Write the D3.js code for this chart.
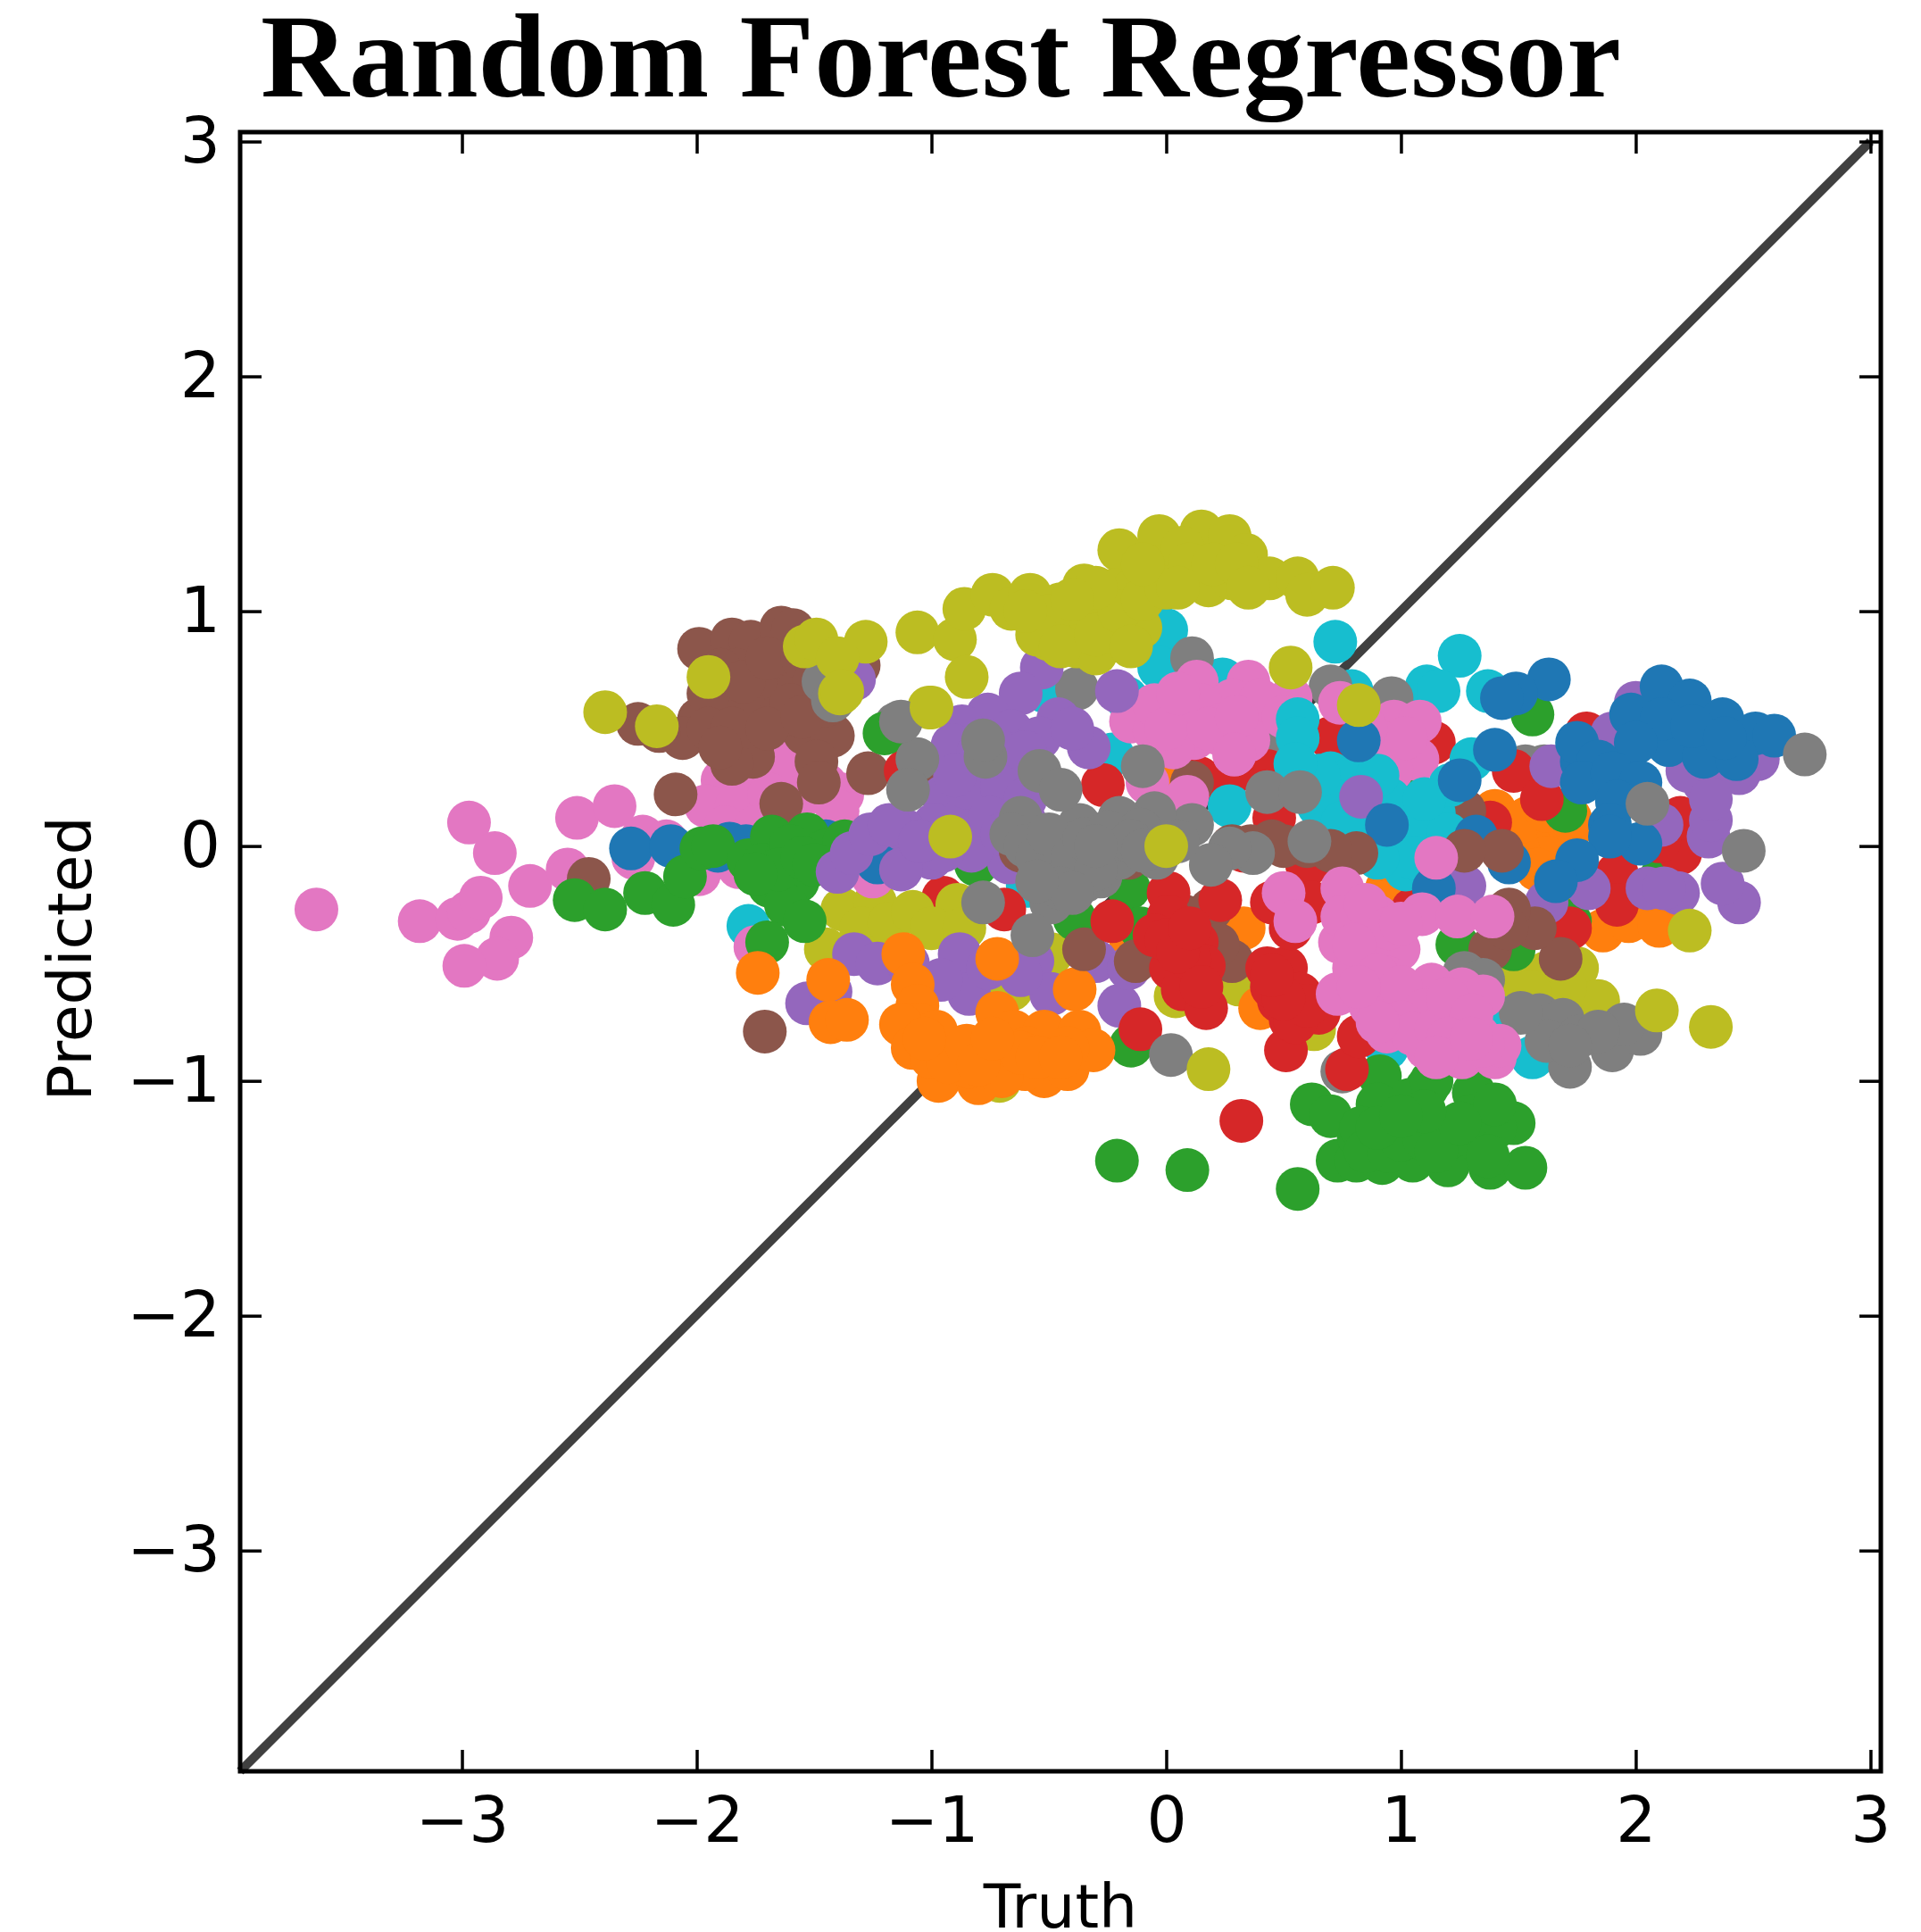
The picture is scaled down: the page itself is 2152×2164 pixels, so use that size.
<!doctype html>
<html lang="en">
<head>
<meta charset="utf-8" />
<title>Random Forest Regressor</title>
<script src="https://d3js.org/d3.v7.min.js"></script>
<style>
  html, body { margin: 0; background: #fff; }
  svg { display: block; filter: blur(0.6px); }
  .tick text { font-family: "DejaVu Sans", sans-serif; }
</style>
</head>
<body>
<div id="svg_div"></div>
<script>
// tick labels
const xTicks = [-3, -2, -1, 0, 1, 2, 3];
const yTicks = [-3, -2, -1, 0, 1, 2, 3];

// tab10 colours used by the batches
const blue = "#1f77b4", orange = "#ff7f0e", green = "#2ca02c", red = "#d62728", purple = "#9467bd";
const brown = "#8c564b", pink = "#e377c2", gray = "#7f7f7f", olive = "#bcbd22", cyan = "#17becf";

// [truth, predicted], one array per clump of points
const cyanBack = [[-.59,-.17],[-.52,.66],[-.23,.39],[-.17,.63],[.24,.71],[.79,.66],[-1.78,-.34],[.0,.92],[-.03,.76],
  [1.56,-.90],[1.46,-.69],[.94,-.86],[.72,.87],[1.25,.81],[1.11,.68],[1.16,.66],[1.37,.66]];
const oliveBack = [[-1.45,-.44],[-1.38,-.27],[-1.24,-.24],[-1.30,-.35],[-1.18,-.33],
  [-.66,-.61],[.31,-.59],[.04,-.64],[.63,-.78],[-.71,-1.0],[-.49,-.46],[-1.01,.59],[1.75,-.52],[1.62,-.54],[1.49,-.56],[1.84,-.66],
  [1.70,-.60],[1.55,-.62]];
const oliveMid = [[-1.08,-.28],[-.89,-.25],[-1.0,-.35],[-.86,-.35]];
const pinkTail = [[-3.62,-.27],[-3.18,-.32],[-3.02,-.31],[-2.97,-.28],[-2.92,-.22],[-2.97,.10],[-2.86,-.03],[-2.71,-.17],[-2.79,-.39],
  [-2.85,-.48],[-2.99,-.51],[-2.55,-.10],[-2.51,.12],[-2.35,.17],[-2.23,.04],[-2.13,.02],[-2.27,-.05],[-1.99,-.12],[-1.82,-.09],
  [-1.89,.28],[-1.79,.31],[-1.71,.41],[-1.62,.36],[-1.45,.26],[-1.38,.22],[-1.96,.17],[-1.83,.17],[-1.69,.22],[-1.54,.22],[-1.40,.15],
  [-1.25,-.13],[-1.75,-.43],[-1.88,.08],[-1.75,.08],[-1.60,.10]];
const blueLeft = [[-2.28,-.01],[-2.11,0],[-1.91,-.02],[-1.86,.01],[-1.79,0],[-1.45,.02],[-1.23,-.07]];
const brownTop = [[-1.99,.84],[-1.85,.88],[-1.77,.87],[-1.64,.93],[-1.59,.92],[-1.83,.75],[-1.71,.73],[-1.62,.75],[-1.91,.59],[-1.99,.54],
  [-2.06,.46],[-2.25,.52],[-2.16,.49],[-1.79,.49],[-1.75,.46],[-1.76,.38],[-1.85,.35],[-1.54,.48],[-1.42,.47],[-1.49,.36],[-1.48,.27],
  [-1.27,.31],[-2.09,.22],[-1.64,.18],[-2.46,-.14],[-1.71,-.79],[-1.31,.77],[-1.88,.66],[-1.71,.63],[-1.57,.66],[-1.80,.60],[-1.65,.55],
  [-1.90,.75],[-1.95,.65],[-1.80,.70],[-1.70,.80],[-1.55,.80],[-1.50,.70],[-1.60,.60],[-1.45,.60],[-1.95,.50],[-1.85,.50],[-1.90,.42],[-1.70,.50],[-1.55,.55]];
const greenLeft = [[-2.52,-.23],[-2.39,-.27],[-2.22,-.20],[-2.10,-.25],[-2.05,-.13],[-1.98,-.01],[-1.93,.0],[-1.78,-.06],[-1.68,.04],[-1.53,.05],
  [-1.72,-.08],[-1.62,-.05],[-1.69,-.17],[-1.57,-.15],[-1.62,-.25],[-1.54,-.32],[-1.70,-.41],[-1.45,-.02],[-1.37,.02],[-1.20,.48],
  [-1.60,.0],[-1.65,-.10],[-1.55,-.05],[-1.75,-.12],[-1.50,-.08]];
const grayTopLeft = [[-1.46,.70],[-1.42,.62],[-1.15,.52]];
const grayBack = [[.70,.68],[.96,.63],[.33,.49],[.41,.43],[.11,.80],[-.38,.67],[.75,-.96],[1.53,.34],[1.61,.34]];
const orangeMisc = [[.33,-.35],[.94,-.18],[-.15,-.40],[.40,-.69],[.02,.34],[1.86,-.36],[1.97,-.32],[2.10,-.34],[1.76,-.18],
  [1.40,.15],[1.54,.12],[1.59,.07],[1.72,.07],[1.62,-.05],[1.50,-.02],[1.72,.12],[1.50,.10],[1.62,.15],[1.58,-.10]];
const greenMisc = [[-.39,-.31],[-.81,-.08],[-.16,-.18],[-.15,-.85],[1.07,.20],[.14,-.41],[-.11,-.35],[1.56,.56],[1.72,-.32],
  [2.11,-.13],[1.70,.15],[1.48,-.44],[1.24,-.42]];
const greenBottom = [[-.21,-1.34],[.09,-1.38],[.56,-1.46],[.62,-1.10],[.70,-1.15],[.73,-1.34],[.81,-1.34],[.91,-.98],[.90,-1.10],[.92,-1.35],
  [.82,-1.24],[1.04,-1.20],[1.05,-1.34],[1.11,-1.03],[1.04,-1.08],[1.20,-1.36],[1.31,-1.05],[1.38,-1.37],[1.45,-1.17],[1.53,-1.37],
  [1.48,-1.18],[1.32,-1.25],[1.21,-1.24],[1.13,-1.0],[1.40,-1.20],[.83,-1.20],[1.37,-1.32],[.95,-1.24],
  [.85,-1.30],[.95,-1.30],[1.0,-1.25],[1.10,-1.25],[1.15,-1.30],[1.30,-1.15],[1.40,-1.10],[1.25,-1.18],[.90,-1.20],[1.10,-1.13],[1.0,-1.15]];
const redBack = [[.43,.32],[.14,.29],[.28,.31],[.70,.46],[1.13,.44],[.46,.12],[-.27,.26],[.60,-.08],[1.05,-.27],[-1.11,.32],[-.69,-.27],
  [-.95,-.22],[.33,-.02],[1.79,.48],[1.48,.32],[1.60,.20],[1.38,.10],[2.19,-.03],[2.19,.12],[1.92,-.12],[1.92,-.25],[1.72,-.35],[1.14,.44],[2.10,.02]];
const purpleLow = [[-.88,-.46],[-.84,-.63],[-.96,-.57],[-.76,-.52],[-.57,-.49],[-.49,-.63],[-.20,-.68],[-.30,-.49],[-.16,-.52],[-1.33,-.46],[-1.23,-.50],
  [-1.53,-.67],[-1.43,-.62],[-1.10,-.50],[-.67,-.07],[-.62,-.55]];
const orangeLow = [[-1.74,-.54],[-1.44,-.57],[-1.43,-.75],[-1.36,-.74],[-1.12,-.46],[-1.08,-.59],[-1.06,-.68],[-1.05,-.76],[-1.13,-.76],[-1.08,-.86],[-.97,-1.0],
  [-.80,-1.01],[-.89,-.86],[-.76,-.91],[-.72,-.48],[-.72,-.71],[-.65,-.79],[-.69,-.91],[-.52,-.98],[-.42,-.95],[-.52,-.79],[-.39,-.61],[-.37,-.79],[-.31,-.87],
  [-.42,-.86],[-.59,-.86],[-.98,-.79],[-.84,-.94],[-.60,-.95],
  [-1.0,-.90],[-.93,-.92],[-.85,-.85],[-.70,-.98],[-.62,-.88],[-.55,-.90],[-.45,-.90],[-1.03,-.82],[-.80,-.93],[-.74,-.82]];
const brownBack = [[.11,.27],[-.35,-.44],[-.13,-.49],[.28,-.49],[.19,-.27],[-.95,.26],[.08,-.30],[.22,-.42],[1.27,.15]];
const brownBand = [[.81,-.03],[.70,-.02],[.60,0],[.50,0],[.36,0],[.28,0],[-.62,-.02],[-.16,-.05],[.45,.02]];
const pinkUpper = [[.13,.70],[.35,.70],[-.15,.53],[-.01,.59],[.09,.56],[.23,.58],[.45,.58],[.53,.63],[-.05,.49],[.12,.46],[.29,.39],[.36,.53],[-.08,.27],[.09,.21],
  [.74,.61],[.97,.53],[1.08,.53],[.92,.44],[1.07,.37],[.96,.32],[1.02,.46],[.85,.50],[.22,.48],[.03,.42],[.28,.62],
  [-.05,.60],[.0,.50],[.15,.60],[.25,.52],[.40,.62],[.35,.45],[.18,.50],[.50,.55],[.05,.65],[.30,.55]];
const cyanUpper = [[.56,.54],[.56,.46],[.70,.31],[.58,.24],[.65,.17],[.87,.26],[.82,.12],[1.14,.14],[1.04,.07],[.96,-.02],[.27,.17],[.92,.12],[1.01,.02],[1.30,.37],
  [1.21,.26],[.76,.20],[.88,.02],[1.02,-.10],[.80,.30],
  [.70,.20],[.85,.15],[.95,.20],[1.10,.05],[1.05,-.05],[.90,-.05],[.75,.10],[.65,.30],[.90,.30],[.55,.35],[1.20,.05],[1.20,-.05],[1.10,.20]];
const purpleUp = [[-.46,.54],[-.21,.66],[-.53,.76],[-.62,.65],[-.76,.56],[-.87,.51],[-.33,.42],[-.66,.49],[-.54,.46],[-.91,.43],[-.74,.37],[-.66,.32],[-.95,.21],[-.86,.12],
  [-.99,.09],[-1.12,.07],[-.92,.04],[-1.0,-.05],[-1.13,-.10],[-.83,-.02],[-.75,.22],[-1.40,-.11],[-1.34,-.03],[-1.26,.05],[-1.18,.09],[-1.33,.71],[-.82,.30],
  [-.70,.40],[-.80,.40],[-.60,.40],[-.85,.25],[-.70,.25],[-.60,.20],[-.90,.30],[-.75,.12],[-.70,.05],[-.60,.10],[-.95,-.02],[-1.05,.02],[-.40,.50]];
const purpleRight = [[2.44,-.24],[2.37,-.16],[2.18,-.20],[2.05,-.18],[2.31,.04],[2.32,.11],[2.52,.37],[2.44,.31],[2.29,.27],[2.22,.32],[2.11,.09],[2.0,.61],[1.80,-.18],
  [1.62,-.24],[1.64,.34],[1.27,-.17],[.83,.21],[2.32,.20],[1.90,.48],[2.12,-.18]];
const blueRight = [[2.11,.68],[2.23,.62],[2.37,.54],[2.51,.48],[2.59,.47],[1.98,.56],[2.14,.43],[2.29,.38],[2.43,.37],[2.11,.54],[2.24,.51],[2.38,.46],[2.0,.44],[1.77,.36],
  [1.75,.44],[1.84,.36],[1.77,.27],[1.90,.31],[2.02,.27],[1.92,.19],[1.89,.09],[2.02,.01],[1.89,.04],[1.75,-.06],[1.66,-.15],[1.46,-.07],[1.32,.04],[1.40,.41],[1.25,.28],
  [1.63,.71],[1.49,.65],[1.43,.63],[.94,.09],[.82,.45],[1.14,-.18]];
const redLow = [[-.23,-.32],[.01,-.20],[.01,-.30],[-.05,-.38],[.06,-.39],[.13,-.41],[.16,-.51],[.02,-.52],[.07,-.61],[.17,-.69],[.23,-.23],[-.11,-.78],[.32,-1.17],[.43,-.52],
  [.51,-.52],[.48,-.66],[.57,-.63],[.65,-.71],[.51,-.87],[.53,-.74],[.77,-.95],[.82,-.81],[.45,-.24],[.62,-.24],[.53,-.35],
  [.0,-.40],[.10,-.48],[.05,-.45],[.10,-.35],[.15,-.60],[.45,-.60],[.55,-.75],[.60,-.68],[.50,-.65],[.45,-.55]];
const brownRight = [[1.68,-.48],[1.57,-.35],[1.46,-.27],[1.38,-.44],[1.43,-.02],[1.27,-.02],[1.45,-.35]];
const grayCentre = [[-.10,.34],[.43,.23],[.57,.23],[.61,.02],[.37,-.03],[.27,-.01],[.19,-.08],[.11,.09],[-.05,.14],[-.20,.12],[0,0],[-.04,-.05],[-.11,.07],[-.27,-.02],[-.28,-.13],
  [-.37,.09],[-.49,-.24],[-.57,-.38],[-.49,-.10],[-.45,-.02],[-.62,.12],[-.66,.05],[-.54,.32],[-.45,.24],[-.78,-.24],[-.77,.38],[-.78,.45],[-1.06,.37],[-1.10,.24],[-1.13,.53],
  [.02,-.89],[-.35,-.15],[-.20,-.05],
  [-.60,.0],[-.55,-.05],[-.50,.05],[-.45,-.10],[-.40,-.05],[-.35,.03],[-.30,-.10],[-.25,.06],[-.15,.02],[-.10,-.02],[.05,.02],[-.45,-.18],[-.40,-.20],[-.55,-.15],[-.30,.0]];
const grayRight = [[2.72,.39],[2.46,-.02],[2.05,.18],[1.72,-.94],[1.90,-.87],[2.02,-.80],[1.95,-.76],[1.59,-.72],[1.69,-.74],[1.62,-.83],[1.76,-.81],[1.51,-.71],
  [1.84,-.79],[1.72,-.85],[1.27,-.54],[1.35,-.57]];
const pinkLow = [[.50,-.20],[.55,-.32],[.75,-.18],[.73,-.63],[.74,-.41],[.82,-.35],[.90,-.30],[1.09,-.29],[1.24,-.30],[1.39,-.30],[.87,-.46],[.99,-.44],[.80,-.52],[.94,-.56],[.87,-.68],
  [1.13,-.59],[1.26,-.61],[1.35,-.64],[1.04,-.66],[1.17,-.69],[.94,-.79],[1.11,-.86],[1.26,-.90],[1.40,-.90],[1.33,-.81],[1.42,-.85],[1.15,-.05],[.29,.39],
  [.75,-.30],[.85,-.25],[.95,-.35],[1.0,-.33],[.80,-.42],[.90,-.55],[1.0,-.60],[1.10,-.70],[1.0,-.75],[1.05,-.80],[1.15,-.78],[1.20,-.65],[1.30,-.72],[1.20,-.82],[1.35,-.85],[1.15,-.90],[1.30,-.82],[.90,-.75],[.82,-.60]];
const oliveTop = [[-1.06,.91],[-.90,.88],[-.85,.72],[-1.00,.59],[-.86,1.01],[-.74,1.07],[-.66,1.01],[-.58,1.07],[-.45,1.03],[-.35,1.11],[-.20,1.26],[-.32,1.01],[-.50,.88],[-.40,.93],
  [-.24,.93],[-.11,.93],[-.22,1.09],[-.03,1.32],[.15,1.34],[.27,1.32],[.34,1.24],[.07,1.14],[.18,1.11],[.28,1.14],[.44,1.14],[.56,1.14],[.60,1.07],[.71,1.10],[-.03,1.19],[.07,1.27],[-.14,1.09],
  [-.50,.98],[-.38,.85],[-.30,.82],[.53,.76],[.82,.60],[0,0],[-.92,.04],[.18,-.95],[-1.39,.65],[2.23,-.36],[2.09,-.70],[2.32,-.77],
  [-2.39,.57],[-2.17,.51],[-1.95,.72],[-1.54,.85],[-1.49,.88],[-1.28,.87],[-1.40,.80],[-1.38,.66],
  [-.55,.90],[-.45,.85],[-.30,.90],[-.20,1.0],[-.10,1.05],[0,1.10],[.10,1.20],[.20,1.20],[.30,1.20],[-.10,1.20],[-.30,1.10],[-.40,1.05],[-.15,.85],[.05,1.10],[.35,1.10],[-.60,1.0]];

const layers = [
  { color: cyan, points: cyanBack }, { color: olive, points: oliveBack }, { color: pink, points: pinkTail },
  { color: blue, points: blueLeft }, { color: brown, points: brownTop }, { color: gray, points: grayTopLeft },
  { color: gray, points: grayBack }, { color: orange, points: orangeMisc }, { color: green, points: greenMisc },
  { color: green, points: greenBottom }, { color: red, points: redBack }, { color: olive, points: oliveMid },
  { color: green, points: greenLeft }, { color: purple, points: purpleLow }, { color: orange, points: orangeLow },
  { color: brown, points: brownBack }, { color: pink, points: pinkUpper }, { color: cyan, points: cyanUpper },
  { color: purple, points: purpleUp }, { color: purple, points: purpleRight }, { color: blue, points: blueRight },
  { color: red, points: redLow }, { color: brown, points: brownBand }, { color: brown, points: brownRight },
  { color: gray, points: grayCentre }, { color: gray, points: grayRight }, { color: pink, points: pinkLow },
  { color: olive, points: oliveTop }
];

const svg = d3.select("#svg_div").append("svg").attr("width", 2152).attr("height", 2164);
const plotLeft = 269, plotRight = 2107, plotTop = 148, plotBottom = 1984;

const xScale = d3.scaleLinear().domain([-3.945, 3.044]).range([plotLeft, plotRight]);
const yScale = d3.scaleLinear().domain([-3.94, 3.04]).range([plotBottom, plotTop]);

// diagonal goes under the points
svg.append("line")
  .attr("x1", xScale(-3.945)).attr("y1", yScale(-3.94))
  .attr("x2", xScale(3)).attr("y2", yScale(3))
  .attr("stroke", "#404040").attr("stroke-width", 10);

layers.forEach(function(layer) {
  svg.append("g").selectAll("circle")
    .data(layer.points)
    .enter().append("circle")
    .attr("cx", function(d) { return xScale(d[0]); })
    .attr("cy", function(d) { return yScale(d[1]); })
    .attr("r", 24.5)
    .attr("fill", layer.color);
});

// axes: ticks point inwards on all four sides, labels only bottom and left
function styleAxis(g) {
  g.select(".domain").remove();
  g.selectAll(".tick line").attr("stroke", "#000").attr("stroke-width", 3.5);
  g.selectAll(".tick text").attr("font-size", 71).attr("fill", "#000");
}
const intFormat = d3.format("d");
svg.append("g").attr("transform", "translate(0," + plotBottom + ")")
  .call(d3.axisBottom(xScale).tickValues(xTicks).tickFormat(intFormat).tickSizeInner(-24).tickPadding(29).tickSizeOuter(0))
  .call(styleAxis);
svg.append("g").attr("transform", "translate(0," + plotTop + ")")
  .call(d3.axisTop(xScale).tickValues(xTicks).tickSizeInner(-24).tickFormat("").tickSizeOuter(0))
  .call(styleAxis);
svg.append("g").attr("transform", "translate(" + plotLeft + ",0)")
  .call(d3.axisLeft(yScale).tickValues(yTicks).tickFormat(intFormat).tickSizeInner(-24).tickPadding(22).tickSizeOuter(0))
  .call(styleAxis);
svg.append("g").attr("transform", "translate(" + plotRight + ",0)")
  .call(d3.axisRight(yScale).tickValues(yTicks).tickSizeInner(-24).tickFormat("").tickSizeOuter(0))
  .call(styleAxis);

svg.append("rect")
  .attr("x", plotLeft).attr("y", plotTop)
  .attr("width", plotRight - plotLeft).attr("height", plotBottom - plotTop)
  .attr("fill", "none").attr("stroke", "#000").attr("stroke-width", 5);

svg.append("text")
  .attr("x", 292).attr("y", 108)
  .attr("textLength", 1524).attr("lengthAdjust", "spacingAndGlyphs")
  .attr("font-family", "'Liberation Serif', serif").attr("font-weight", "bold")
  .attr("font-size", 133).attr("fill", "#000")
  .text("Random Forest Regressor");

svg.append("text")
  .attr("x", 1188).attr("y", 2159).attr("text-anchor", "middle")
  .attr("font-family", "'DejaVu Sans', sans-serif").attr("font-size", 68)
  .text("Truth");

svg.append("text")
  .attr("transform", "translate(102,1074) rotate(-90)").attr("text-anchor", "middle")
  .attr("font-family", "'DejaVu Sans', sans-serif").attr("font-size", 68)
  .text("Predicted");
</script>
</body>
</html>
